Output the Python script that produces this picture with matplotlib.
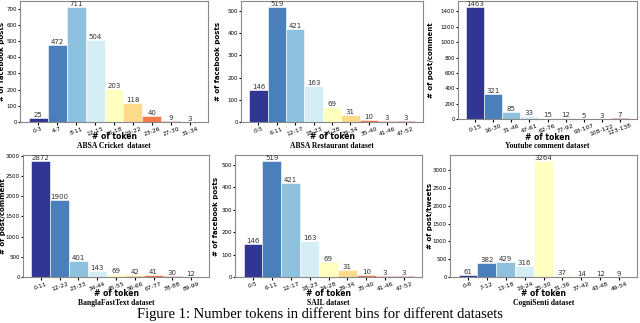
import matplotlib
matplotlib.use('Agg')
import matplotlib.pyplot as plt

# bin labels and counts for each dataset
cricket_bins = ['0-3', '4-7', '8-11', '12-15', '16-18', '19-22', '23-26', '27-30', '31-34']
cricket_counts = [25, 472, 711, 504, 203, 118, 40, 9, 3]

restaurant_bins = ['0-5', '6-11', '12-17', '18-23', '24-28', '29-34', '35-40', '41-46', '47-52']
restaurant_counts = [146, 519, 421, 163, 69, 31, 10, 3, 3]

youtube_bins = ['0-15', '16-30', '31-46', '47-61', '62-76', '77-92', '93-107', '108-122', '123-138']
youtube_counts = [1463, 321, 85, 33, 15, 12, 5, 3, 7]

bangla_bins = ['0-11', '12-22', '23-33', '34-44', '45-55', '56-66', '67-77', '78-88', '89-99']
bangla_counts = [2872, 1900, 401, 143, 69, 42, 41, 30, 12]

sail_bins = ['0-5', '6-11', '12-17', '18-23', '24-28', '29-34', '35-40', '41-46', '47-52']
sail_counts = [146, 519, 421, 163, 69, 31, 10, 3, 3]

cogni_bins = ['0-6', '7-12', '13-18', '19-24', '25-30', '31-36', '37-42', '43-48', '49-54']
cogni_counts = [61, 382, 429, 316, 3264, 37, 14, 12, 9]

bar_colors = ['#313695', '#4a7fbc', '#8dc1de', '#d5edf5', '#ffffbf',
              '#fed98a', '#f4784a', '#d73027', '#a50026']

# (bins, counts, ylabel, caption, axes box in px, ylabel x in px, xlabel/caption offsets in px)
panels = [
    (cricket_bins, cricket_counts, '# of facebook posts', 'ABSA Cricket  dataset', (20, 1, 208, 122), 2.5, 15, 24),
    (restaurant_bins, restaurant_counts, '# of facebook posts', 'ABSA Restaurant dataset', (241, 1, 423, 122), 218, 15, 24),
    (youtube_bins, youtube_counts, '# of post/comment', 'Youtube comment dataset', (458, 1, 637, 119), 431, 18, 27),
    (bangla_bins, bangla_counts, '# of post/comment', 'BanglaFastText dataset', (23, 155, 209, 277), 3, 17, 26),
    (sail_bins, sail_counts, '# of facebook posts', 'SAIL dataset', (235, 155, 422, 277), 216, 17, 26),
    (cogni_bins, cogni_counts, '# of post/tweets', 'CogniSenti dataset', (450, 155, 637, 277), 430, 17, 26),
]

W, H = 640, 323
fig = plt.figure(figsize=(6.4, 3.23), dpi=100)

for bins, counts, ylab, caption, (x0, y0, x1, y1), ylx, xl_off, cap_off in panels:
    ax = fig.add_axes([x0 / W, 1 - y1 / H, (x1 - x0) / W, (y1 - y0) / H])
    pos = list(range(len(bins)))
    ax.bar(pos, counts, width=1.0, color=bar_colors, edgecolor='white', linewidth=0.4)
    for p, c in zip(pos, counts):
        ax.text(p, c, str(c), ha='center', va='bottom', fontsize=5, color='#333333')
    ax.set_xticks(pos)
    ax.set_xticklabels(bins, rotation=20, fontsize=4.3)
    ax.tick_params(axis='y', labelsize=4, length=1.5, pad=0.8)
    ax.tick_params(axis='x', length=2, pad=1)
    ax.set_xlabel('# of token', fontsize=5.5, fontweight='bold')
    ax.set_ylabel(ylab, fontsize=5, fontweight='bold')
    ax.xaxis.set_label_coords(0.5, -xl_off / (y1 - y0))
    ax.xaxis.label.set_va('center')
    ax.yaxis.set_label_coords((ylx - x0) / (x1 - x0), 0.5)
    ax.yaxis.label.set_va('center')
    for s in ax.spines.values():
        s.set_color('#888888')
        s.set_linewidth(0.8)
    cx = (x0 + x1) / 2 / W
    fig.text(cx, 1 - (y1 + cap_off) / H, caption, ha='center', va='center',
             fontsize=5.5, fontweight='bold', family='Liberation Serif')

fig.text(0.5, 1 - 314 / H, 'Figure 1: Number tokens in different bins for different datasets',
         ha='center', va='center', fontsize=10.5, family='Liberation Serif')

fig.savefig('out.png', dpi=100)
